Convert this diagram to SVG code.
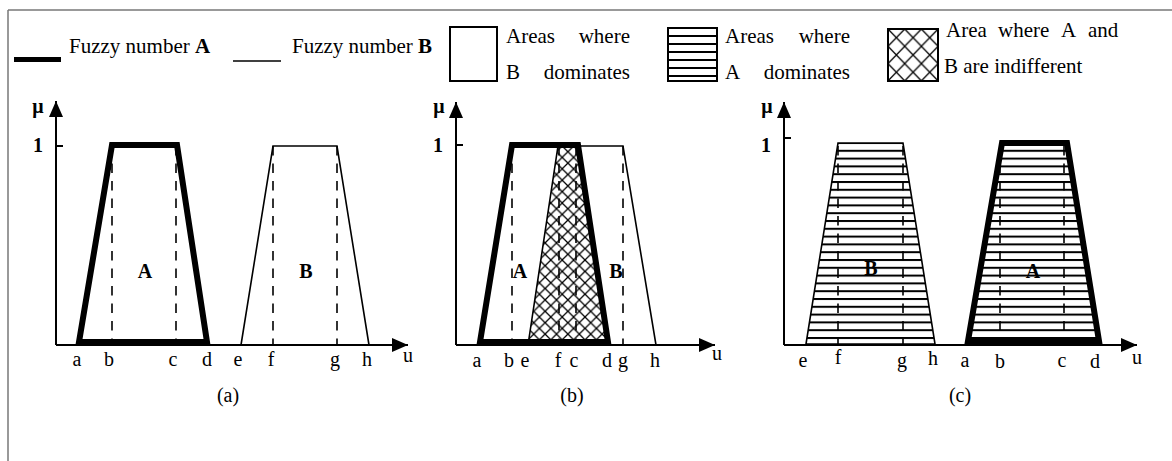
<svg xmlns="http://www.w3.org/2000/svg" width="1172" height="461" viewBox="0 0 1172 461">
<style>
text { font-family: "Liberation Serif", "Times New Roman", serif; fill: #000; }
.lg { font-size: 21px; }
.ax { font-size: 20px; text-anchor: middle; }
.b { font-weight: bold; }
.axis { stroke: #000; stroke-width: 2; fill: none; }
.thick { stroke: #000; stroke-width: 6; fill: none; stroke-linejoin: miter; }
.thin { stroke: #000; stroke-width: 1.6; fill: none; }
.dash { stroke: #000; stroke-width: 1.6; stroke-dasharray: 9.5 8; fill: none; }
.frame { stroke: #777; stroke-width: 1.5; fill: none; }
.box { stroke: #000; stroke-width: 2; fill: #fff; }
.hl { stroke: #000; stroke-width: 2; }
</style>
<defs>
<marker id="arr" markerWidth="16" markerHeight="14" refX="16" refY="7" orient="auto" markerUnits="userSpaceOnUse">
<path d="M0,0 L16,7 L0,14 Z" fill="#000"/>
</marker>
<pattern id="hatch" patternUnits="userSpaceOnUse" width="20" height="7.8" x="0" y="142">
<rect x="0" y="0" width="20" height="2" fill="#000"/>
</pattern>
<pattern id="xh" patternUnits="userSpaceOnUse" width="11.4" height="11.4" x="528" y="146">
<path d="M0,0 L11.4,11.4 M11.4,0 L0,11.4" stroke="#000" stroke-width="1.3"/>
</pattern>
<pattern id="xhl" patternUnits="userSpaceOnUse" width="16.7" height="17.3" x="888" y="29">
<path d="M0,0 L16.7,17.3 M16.7,0 L0,17.3" stroke="#000" stroke-width="1.3"/>
</pattern>
</defs>

<g id="frame">
<line class="frame" x1="8" y1="10" x2="1172" y2="10"/>
<line class="frame" x1="8" y1="10" x2="8" y2="461"/>
</g>

<g id="legend">
<g id="legend-a">
<line x1="14" y1="59.5" x2="61" y2="59.5" stroke="#000" stroke-width="5"/>
<text class="lg" x="69" y="53">Fuzzy number <tspan class="b">A</tspan></text>
</g>
<g id="legend-b">
<line x1="233" y1="61" x2="281" y2="61" stroke="#000" stroke-width="1.4"/>
<text class="lg" x="292" y="53">Fuzzy number <tspan class="b">B</tspan></text>
</g>
<g id="legend-bdom">
<rect class="box" x="450" y="27" width="47" height="54"/>
<text class="lg" x="506" y="43">Areas</text>
<text class="lg" x="630" y="43" text-anchor="end">where</text>
<text class="lg" x="506" y="79">B</text>
<text class="lg" x="630" y="79" text-anchor="end">dominates</text>
</g>
<g id="legend-adom">
<rect class="box" x="668" y="28" width="49" height="53"/>
<line class="hl" x1="668" y1="36" x2="717" y2="36"/>
<line class="hl" x1="668" y1="44" x2="717" y2="44"/>
<line class="hl" x1="668" y1="52" x2="717" y2="52"/>
<line class="hl" x1="668" y1="60" x2="717" y2="60"/>
<line class="hl" x1="668" y1="68" x2="717" y2="68"/>
<line class="hl" x1="668" y1="76" x2="717" y2="76"/>
<text class="lg" x="725" y="43">Areas</text>
<text class="lg" x="850" y="43" text-anchor="end">where</text>
<text class="lg" x="725" y="79">A</text>
<text class="lg" x="850" y="79" text-anchor="end">dominates</text>
</g>
<g id="legend-indiff">
<rect x="888" y="29" width="50" height="52" fill="url(#xhl)" stroke="#000" stroke-width="2"/>
<text class="lg" y="37"><tspan x="946">Area</tspan><tspan x="998">where</tspan><tspan x="1061">A</tspan><tspan x="1088">and</tspan></text>
<text class="lg" x="944" y="73">B are indifferent</text>
</g>
</g>

<g id="panel-a">
<line class="axis" x1="56" y1="345" x2="56" y2="101" marker-end="url(#arr)"/>
<line class="axis" x1="56" y1="345" x2="408" y2="345" marker-end="url(#arr)"/>
<line class="axis" x1="56" y1="146" x2="63" y2="146"/>
<text class="ax b" x="38" y="113">μ</text>
<text class="ax b" x="38" y="152">1</text>
<line class="dash" x1="112" y1="146" x2="112" y2="344"/>
<line class="dash" x1="176" y1="146" x2="176" y2="344"/>
<line class="dash" x1="273" y1="146" x2="273" y2="344"/>
<line class="dash" x1="337" y1="146" x2="337" y2="344"/>
<polyline class="thin" points="241,345 273,146 337,146 369,345"/>
<polygon class="thick" points="79,342 112,145 177,145 207,342"/>
<text class="ax b" x="145" y="278">A</text>
<text class="ax b" x="306" y="278">B</text>
<text class="ax" x="77" y="366">a</text>
<text class="ax" x="109" y="366">b</text>
<text class="ax" x="173" y="366">c</text>
<text class="ax" x="207" y="366">d</text>
<text class="ax" x="238" y="366">e</text>
<text class="ax" x="271" y="366">f</text>
<text class="ax" x="335" y="366">g</text>
<text class="ax" x="367" y="366">h</text>
<text class="ax" x="408" y="362">u</text>
<text class="ax" x="228" y="402">(a)</text>
</g>

<g id="panel-b">
<polygon points="528,344 558,146 578,146 608,344" fill="url(#xh)"/>
<line class="axis" x1="456" y1="345" x2="456" y2="102" marker-end="url(#arr)"/>
<line class="axis" x1="456" y1="345" x2="715" y2="345" marker-end="url(#arr)"/>
<line class="axis" x1="456" y1="145" x2="463" y2="145"/>
<text class="ax b" x="439" y="113">μ</text>
<text class="ax b" x="438" y="152">1</text>
<line class="dash" x1="512" y1="146" x2="512" y2="344"/>
<line class="dash" x1="559" y1="146" x2="559" y2="344"/>
<line class="dash" x1="576" y1="146" x2="576" y2="344"/>
<line class="dash" x1="623" y1="146" x2="623" y2="344"/>
<polyline class="thin" points="528,345 558,146 623,146 656,345"/>
<polygon class="thick" points="480,342 512,145 578,145 608,342"/>
<text class="ax b" x="520" y="278">A</text>
<text class="ax b" x="616" y="278">B</text>
<text class="ax" x="477" y="367">a</text>
<text class="ax" x="509" y="367">b</text>
<text class="ax" x="525" y="367">e</text>
<text class="ax" x="558" y="367">f</text>
<text class="ax" x="574" y="367">c</text>
<text class="ax" x="607" y="367">d</text>
<text class="ax" x="623" y="367">g</text>
<text class="ax" x="655" y="367">h</text>
<text class="ax" x="717" y="360">u</text>
<text class="ax" x="572" y="402">(b)</text>
</g>

<g id="panel-c">
<line class="axis" x1="784" y1="345" x2="784" y2="102" marker-end="url(#arr)"/>
<line class="axis" x1="784" y1="345" x2="1137" y2="345" marker-end="url(#arr)"/>
<line class="axis" x1="784" y1="138" x2="791" y2="138"/>
<text class="ax b" x="767" y="113">μ</text>
<text class="ax b" x="766" y="152">1</text>
<polygon points="806,344 838,143 903,143 935,344" fill="url(#hatch)" stroke="#000" stroke-width="1.6"/>
<polygon points="968,341 1002,143 1067,143 1099,341" fill="url(#hatch)" stroke="#000" stroke-width="6"/>
<line class="dash" x1="838" y1="146" x2="838" y2="344"/>
<line class="dash" x1="903" y1="146" x2="903" y2="344"/>
<line class="dash" x1="1000" y1="146" x2="1000" y2="340"/>
<line class="dash" x1="1064" y1="146" x2="1064" y2="340"/>
<text class="ax b" x="871" y="275">B</text>
<text class="ax b" x="1033" y="278">A</text>
<text class="ax" x="803" y="367">e</text>
<text class="ax" x="838" y="364">f</text>
<text class="ax" x="902" y="367">g</text>
<text class="ax" x="933" y="365">h</text>
<text class="ax" x="965" y="367">a</text>
<text class="ax" x="1000" y="368">b</text>
<text class="ax" x="1062" y="367">c</text>
<text class="ax" x="1095" y="368">d</text>
<text class="ax" x="1137" y="364">u</text>
<text class="ax" x="960" y="402">(c)</text>
</g>
</svg>
